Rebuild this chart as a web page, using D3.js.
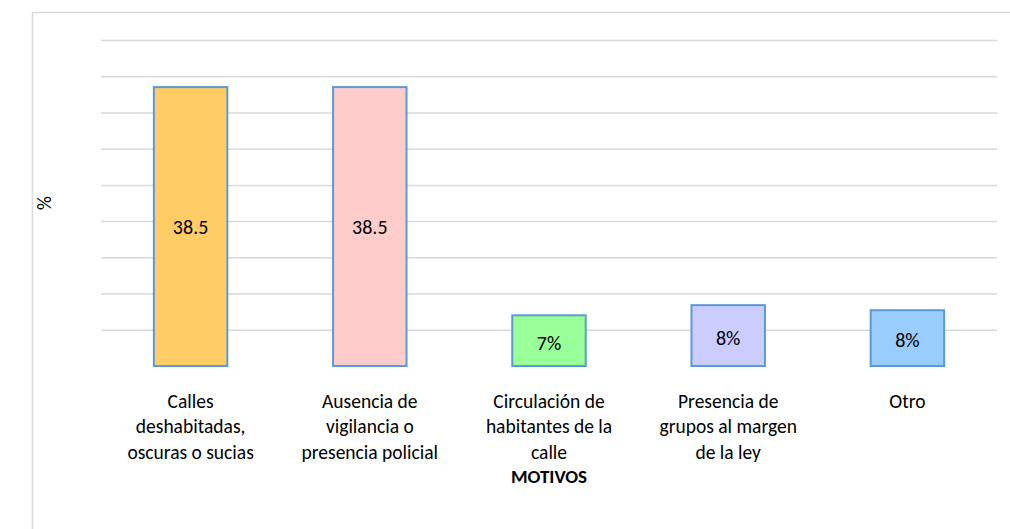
<!DOCTYPE html>
<html>
<head>
<meta charset="utf-8">
<script src="https://cdn.jsdelivr.net/npm/d3@7"></script>
<style>
  body { margin: 0; background: #fff; }
  svg { display: block; }
  svg text { font-family: Carlito, Calibri, Lato, sans-serif; }
</style>
</head>
<body>
<div id="chart"></div>
<script>
// motivos y porcentajes
const categories = [
  ["Calles", "deshabitadas,", "oscuras o sucias"],
  ["Ausencia de", "vigilancia o", "presencia policial"],
  ["Circulación de", "habitantes de la", "calle"],
  ["Presencia de", "grupos al margen", "de la ley"],
  ["Otro"]
];
const values = [38.5, 38.5, 7.0, 8.4, 7.7];
const valueLabels = ["38.5", "38.5", "7%", "8%", "8%"];
const colors = ["#ffcc66", "#ffcccc", "#99ff99", "#ccccff", "#99ccff"];
const gridTicks = [5, 10, 15, 20, 25, 30, 35, 40, 45];

const width = 1010;
const height = 529;
const margin = { top: 40, right: 13, bottom: 163, left: 101 };

const svg = d3.select("#chart")
  .append("svg")
  .attr("width", width)
  .attr("height", height);

// marco del grafico
svg.append("path")
  .attr("d", `M32.5,${height} V12.5 H${width}`)
  .attr("fill", "none")
  .attr("stroke", "#d9d9d9")
  .attr("stroke-width", 1.5);

const x = d3.scaleBand()
  .domain(d3.range(values.length))
  .range([margin.left, width - margin.right])
  .paddingInner(0.59)
  .paddingOuter(0.295);

const y = d3.scaleLinear()
  .domain([0, 45])
  .range([height - margin.bottom, margin.top]);

svg.append("g")
  .attr("class", "grid")
  .attr("transform", `translate(${margin.left},0)`)
  .call(d3.axisLeft(y)
    .tickValues(gridTicks)
    .tickSize(-(width - margin.right - margin.left))
    .tickFormat(""))
  .call(g => g.select(".domain").remove())
  .selectAll(".tick line")
  .attr("stroke", "#d9d9d9")
  .attr("stroke-width", 1.5);

svg.selectAll("rect.bar")
  .data(values)
  .enter()
  .append("rect")
  .attr("class", "bar")
  .attr("x", (d, i) => x(i))
  .attr("y", d => y(d))
  .attr("width", x.bandwidth())
  .attr("height", d => y(0) - y(d))
  .attr("fill", (d, i) => colors[i])
  .attr("stroke", "#5b9bd5")
  .attr("stroke-width", 2);

svg.selectAll("text.value")
  .data(values)
  .enter()
  .append("text")
  .attr("class", "value")
  .attr("x", (d, i) => x(i) + x.bandwidth() / 2)
  .attr("y", d => (y(d) + y(0)) / 2 + (d > 20 ? 0 : 2))
  .attr("text-anchor", "middle")
  .attr("dominant-baseline", "central")
  .attr("font-size", 20)
  .attr("fill", "#000")
  .text((d, i) => valueLabels[i]);

// etiquetas de categorias
const xAxis = svg.append("g")
  .attr("class", "x-axis")
  .attr("transform", `translate(0,${y(0)})`)
  .call(d3.axisBottom(x).tickSize(0).tickFormat(""));
xAxis.select(".domain").remove();

xAxis.selectAll(".tick")
  .append("text")
  .attr("text-anchor", "middle")
  .attr("font-size", 19.5)
  .attr("fill", "#000")
  .selectAll("tspan")
  .data(i => categories[i])
  .enter()
  .append("tspan")
  .attr("x", 0)
  .attr("y", (d, j) => 42 + j * 25.3)
  .text(d => d);

svg.append("text")
  .attr("x", (margin.left + width - margin.right) / 2)
  .attr("y", 483)
  .attr("text-anchor", "middle")
  .attr("font-size", 19)
  .attr("font-weight", "bold")
  .text("MOTIVOS");

svg.append("text")
  .attr("transform", `translate(51,${(y(0) + y(45)) / 2}) rotate(-90)`)
  .attr("text-anchor", "middle")
  .attr("font-size", 19.5)
  .text("%");
</script>
</body>
</html>
